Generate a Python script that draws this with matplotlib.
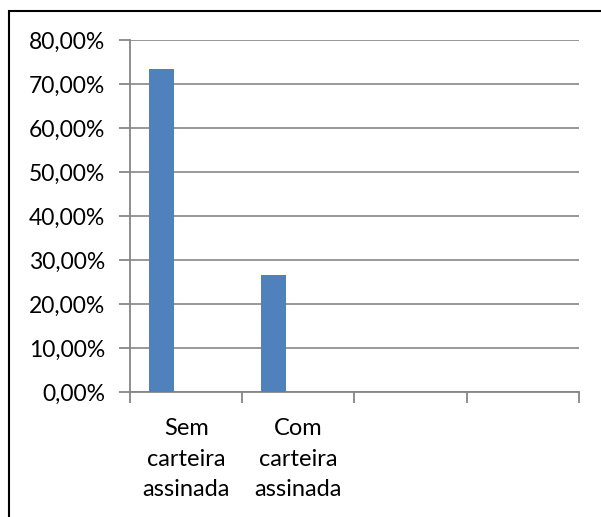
import matplotlib.pyplot as plt
import matplotlib.patches as patches
import numpy as np
from matplotlib.ticker import FuncFormatter

plt.rcParams['font.family'] = ['Lato', 'DejaVu Sans']

categories = ['Sem\ncarteira\nassinada', 'Com\ncarteira\nassinada', '', '']
values = [73.33, 26.67, None, None]
yticks = [0, 10, 20, 30, 40, 50, 60, 70, 80]

grid_col = '#868686'
bar_col = '#4F81BD'

fig = plt.figure(figsize=(6.01, 5.17), dpi=100)
ax = fig.add_axes([0.2163, 0.2418, 0.7471, 0.6808])

# three series slots per category, only the first one holds data
n_slots = 3
w = 1 / (n_slots + 1.5)
x = np.arange(len(categories))
for i, v in enumerate(values):
    if v is None:
        continue
    ax.bar(x[i] - 0.5 + 0.75 * w, v, width=w, align='edge', color=bar_col, zorder=3)

ax.set_xlim(-0.5, len(categories) - 0.5)
ax.set_ylim(0, 80)
ax.set_yticks(yticks)
ax.yaxis.set_major_formatter(FuncFormatter(lambda v, p: f'{v:.2f}%'.replace('.', ',')))
ax.yaxis.grid(True, color=grid_col, linewidth=1.2, zorder=0)

# category boundaries carry the x ticks, labels sit at centres
ax.set_xticks(np.arange(len(categories) + 1) - 0.5)
ax.set_xticklabels([])
ax.set_xticks(x, minor=True)
ax.set_xticklabels(categories, minor=True, fontsize=17, linespacing=1.55)
ax.tick_params(axis='x', which='minor', length=0, pad=19)
ax.tick_params(axis='x', which='major', length=8, width=1.3, color=grid_col, direction='out')
ax.tick_params(axis='y', length=8, width=1.3, color=grid_col, labelsize=16.5, pad=10)

for s in ['top', 'right']:
    ax.spines[s].set_visible(False)
for s in ['left', 'bottom']:
    ax.spines[s].set_color(grid_col)
    ax.spines[s].set_linewidth(1.3)

# outer chart border, right and bottom edges run off the canvas
fig.patches.append(patches.Rectangle((9 / 601, -0.2), 1.2, 1.2 - 11 / 517,
                                     transform=fig.transFigure, fill=False,
                                     edgecolor='black', linewidth=1.5, clip_on=False))

fig.savefig('out.png', dpi=100)
